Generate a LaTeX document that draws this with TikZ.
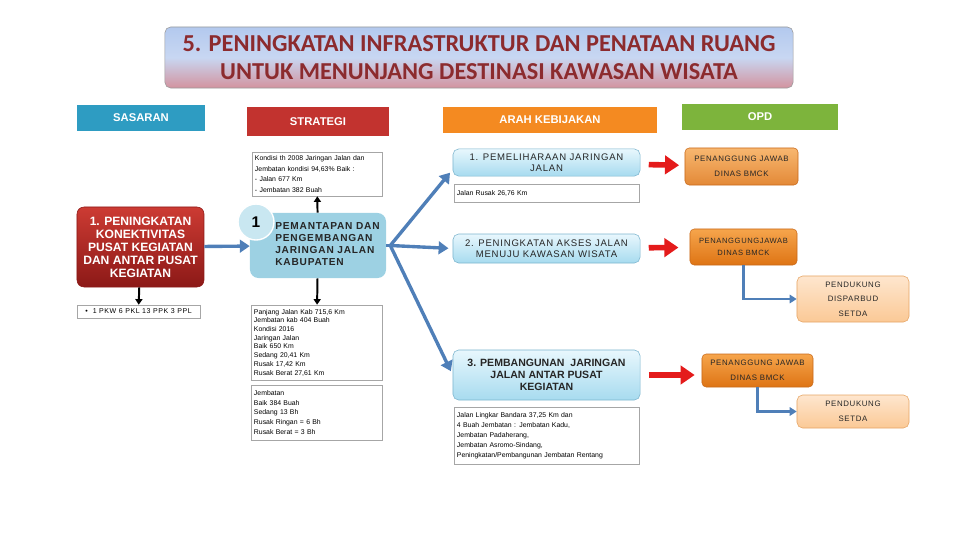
\documentclass[tikz,border=0pt]{standalone}
\usepackage{fontspec}
\setmainfont{Liberation Sans}
\newfontfamily\titlefont{Carlito}
\newfontfamily\widefont[LetterSpace=8]{Liberation Sans}
\usepackage{xcolor}
\usepackage{tikz}
\usetikzlibrary{arrows.meta,positioning,calc}

\definecolor{titlered}{HTML}{8C2B2E}
\definecolor{titletop}{HTML}{B3C9EE}
\definecolor{titlemid}{HTML}{C8D7F2}
\definecolor{titlebot}{HTML}{D3939F}
\definecolor{sasaranblue}{HTML}{2E9CC2}
\definecolor{strategired}{HTML}{C2332F}
\definecolor{araborange}{HTML}{F48A21}
\definecolor{opdgreen}{HTML}{7DB43C}
\definecolor{targettop}{HTML}{CC3B33}
\definecolor{targetbot}{HTML}{8C1917}
\definecolor{stratfill}{HTML}{9DD1E3}
\definecolor{circfill}{HTML}{C9E7F1}
\definecolor{policytop}{HTML}{E8F7FD}
\definecolor{policybot}{HTML}{A7DBEF}
\definecolor{policyedge}{HTML}{7DB5CE}
\definecolor{opdtop}{HTML}{F6A54C}
\definecolor{opdbot}{HTML}{DE7414}
\definecolor{opdedge}{HTML}{C8691A}
\definecolor{supporttop}{HTML}{FEE6CE}
\definecolor{supportbot}{HTML}{FBC996}
\definecolor{supportedge}{HTML}{E6A565}
\definecolor{arrowblue}{HTML}{4F7FB8}
\definecolor{arrowred}{HTML}{E41B1B}

\begin{document}
\begin{tikzpicture}[
    x=0.025cm, y=-0.025cm,
    titlebox/.style={rectangle, rounded corners=4pt, draw=gray!80, top color=titletop, bottom color=titlebot, middle color=titlemid, minimum width=15.7cm, minimum height=1.525cm, align=center, text=titlered, font=\titlefont\bfseries\fontsize{17.3}{20}\selectfont},
    header/.style={rectangle, minimum height=0.65cm, text=white, font=\bfseries\fontsize{8}{9}\selectfont},
    target/.style={rectangle, rounded corners=5pt, top color=targettop, bottom color=targetbot, draw=targetbot, text=white, align=center, minimum width=3.175cm, minimum height=2cm, font=\bfseries\fontsize{8.6}{9.2}\selectfont},
    strategy/.style={rectangle, rounded corners=6pt, fill=stratfill, minimum width=3.4cm, minimum height=1.625cm},
    note/.style={rectangle, draw=gray!70, fill=white, align=left, inner sep=2pt, font=\fontsize{4.9}{7.4}\selectfont},
    policy/.style={rectangle, rounded corners=4pt, draw=policyedge, top color=policytop, bottom color=policybot, minimum width=4.675cm, align=center, text=black!85, font=\widefont\fontsize{6.8}{7.8}\selectfont},
    opd/.style={rectangle, rounded corners=3pt, draw=opdedge, top color=opdtop, bottom color=opdbot, align=center, text=black!85, font=\widefont\fontsize{5.6}{10.6}\selectfont},
    support/.style={rectangle, rounded corners=4pt, draw=supportedge, top color=supporttop, bottom color=supportbot, minimum width=2.8cm, align=center, text=black!85, font=\widefont\fontsize{5.6}{10.3}\selectfont},
    bluearrow/.style={-{Triangle[length=7pt,width=9pt]}, line width=2.4pt, draw=arrowblue},
    redarrow/.style={-{Triangle[length=10pt,width=13pt]}, line width=4pt, draw=arrowred},
    blackarrow/.style={-{Triangle[length=4pt,width=5pt]}, line width=1.4pt},
    elbow/.style={-{Triangle[length=5pt,width=6pt]}, line width=1.6pt, draw=arrowblue},
]
\useasboundingbox (0,0) rectangle (960,540);

% Title
\node[titlebox] (title) at (479,57.5) {5. PENINGKATAN INFRASTRUKTUR DAN PENATAAN RUANG\\UNTUK MENUNJANG DESTINASI KAWASAN WISATA};

% Column headers
\node[header, fill=sasaranblue, minimum width=3.2cm] (sasaran) at (141,118) {SASARAN};
\node[header, fill=strategired, minimum width=3.55cm, minimum height=0.725cm] (strategi) at (318,121.5) {STRATEGI};
\node[header, fill=araborange, minimum width=5.35cm] (arah) at (550,120) {ARAH KEBIJAKAN};
\node[header, fill=opdgreen, minimum width=3.9cm] (opd) at (760,117) {OPD};

% Sasaran
\node[target] (target1) at (140.5,247) {1. PENINGKATAN\\KONEKTIVITAS\\PUSAT KEGIATAN\\DAN ANTAR PUSAT\\KEGIATAN};
\node[note, minimum width=3.075cm, minimum height=0.325cm, font=\widefont\fontsize{5}{6}\selectfont] (pkw) at (138.5,311.5) {\textbullet\ \ 1 PKW 6 PKL 13 PPK 3 PPL};

% Strategi
\node[note, text width=3.1cm, minimum height=1.1cm] (kondisi) at (317,174) {Kondisi th 2008 Jaringan Jalan dan\\Jembatan kondisi 94,63\% Baik :\\- Jalan 677 Km\\- Jembatan 382 Buah};
\node[strategy] (strat) at (318,245.5) {};
\node[anchor=north west, align=left, text=black!85, inner sep=0pt, font=\widefont\bfseries\fontsize{7.2}{8.5}\selectfont] (strattext) at (275,222) {PEMANTAPAN DAN\\PENGEMBANGAN\\JARINGAN JALAN\\KABUPATEN};
\node[note, text width=3.125cm, minimum height=1.875cm, font=\fontsize{4.9}{6.2}\selectfont] (panjang) at (316.5,342.5) {Panjang Jalan Kab 715,6 Km\\Jembatan kab 404 Buah\\Kondisi 2016\\Jaringan Jalan\\Baik 650 Km\\Sedang 20,41 Km\\Rusak 17,42 Km\\Rusak Berat 27,61 Km};
\node[note, text width=3.125cm, minimum height=1.375cm, font=\fontsize{4.9}{6.9}\selectfont] (jembatan) at (316.5,412.5) {Jembatan\\Baik 384 Buah\\Sedang 13 Bh\\Rusak Ringan = 6 Bh\\Rusak Berat = 3 Bh};

% Arah kebijakan
\node[policy, minimum height=0.675cm] (arah1) at (546.5,162.5) {1. PEMELIHARAAN JARINGAN\\JALAN};
\node[note, text width=4.475cm, minimum height=0.45cm] (rusak) at (546.5,193) {Jalan Rusak 26,76 Km};
\node[policy, minimum height=0.725cm] (arah2) at (546.5,248.5) {2. PENINGKATAN AKSES JALAN\\MENUJU KAWASAN WISATA};
\node[policy, minimum height=1.25cm, font=\bfseries\fontsize{7.5}{8.6}\selectfont] (arah3) at (546.5,375) {3. PEMBANGUNAN\ \ JARINGAN\\JALAN ANTAR PUSAT\\KEGIATAN};
\node[note, text width=4.475cm, minimum height=1.425cm, font=\fontsize{4.9}{7.2}\selectfont] (lingkar) at (546.5,435.5) {Jalan Lingkar Bandara 37,25 Km dan\\4 Buah Jembatan : Jembatan Kadu,\\Jembatan Padaherang,\\Jembatan Asromo-Sindang,\\Peningkatan/Pembangunan Jembatan Rentang};

% OPD
\node[opd, minimum width=2.825cm, minimum height=0.925cm, top color=opdtop!80!white, bottom color=opdbot!85!white] (opd1) at (741.5,166.5) {PENANGGUNG JAWAB\\DINAS BMCK};
\node[opd, minimum width=2.675cm, minimum height=0.9cm, font=\widefont\fontsize{5.4}{8.5}\selectfont] (opd2) at (743.5,247) {PENANGGUNGJAWAB\\DINAS BMCK};
\node[support, minimum height=1.15cm] (pend1) at (853,299) {PENDUKUNG\\DISPARBUD\\SETDA};
\node[opd, minimum width=2.775cm, minimum height=0.825cm] (opd3) at (757.5,370.5) {PENANGGUNG JAWAB\\DINAS BMCK};
\node[support, minimum height=0.825cm] (pend2) at (853,411.5) {PENDUKUNG\\SETDA};

% Arrows
\draw[bluearrow] (target1) -- (strat);
\node[circle, fill=circfill, draw=white, line width=1pt, minimum size=0.9cm, font=\bfseries\fontsize{11}{12}\selectfont] (num1) at (256,222) {1};
\draw[blackarrow] (target1) -- (pkw);
\draw[blackarrow] (strat) -- (kondisi);
\draw[blackarrow] (strat) -- (panjang);
\coordinate (fan) at ($(strat.east)+(4,0)$);
\draw[bluearrow, shorten >=3pt] (fan) -- ($(arah1.west)!0.5!(arah1.south west)$);
\draw[bluearrow, shorten >=3pt] (fan) -- (arah2.west);
\draw[bluearrow, shorten >=3pt] (fan) -- (arah3.west);
\draw[line width=2.4pt, arrowblue] (strat.east) -- (fan);
\draw[redarrow, shorten <=6pt, shorten >=4pt] (arah1) -- (opd1);
\draw[redarrow, shorten <=6pt, shorten >=8pt] (arah2) -- (opd2);
\draw[redarrow, shorten <=6pt, shorten >=5pt] (arah3.east) -- (opd3.west |- arah3.east);
\draw[elbow] (opd2.south) |- (pend1.west);
\draw[elbow] (opd3.south) |- (pend2.west);

\end{tikzpicture}
\end{document}
